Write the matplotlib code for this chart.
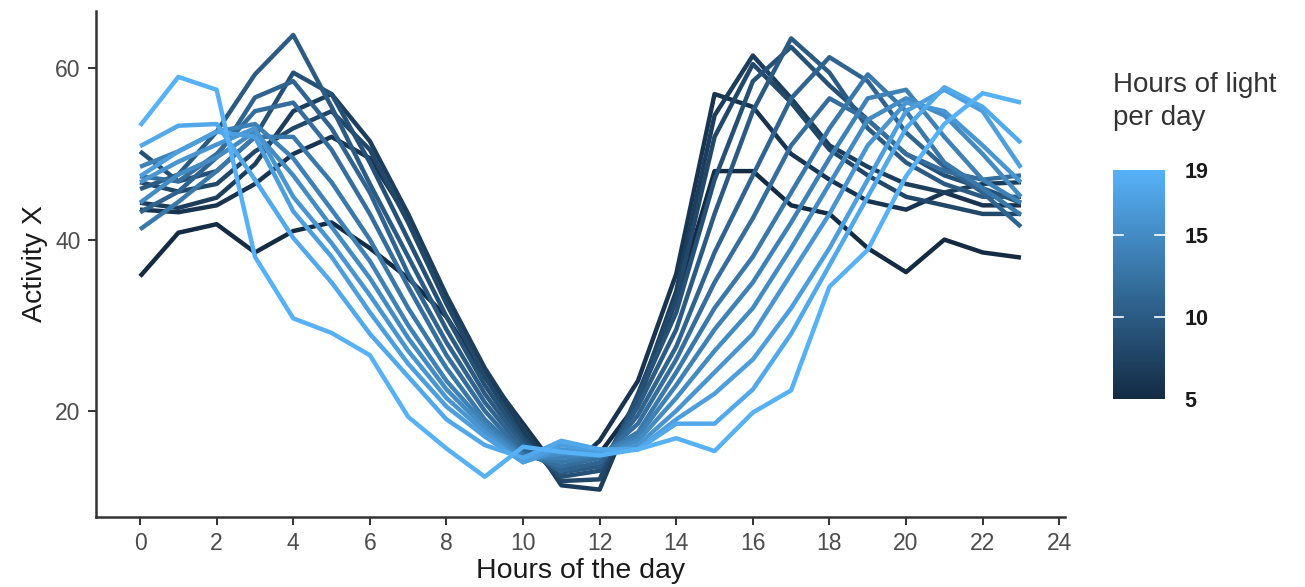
import matplotlib
matplotlib.use("Agg")
import matplotlib.pyplot as plt
from matplotlib.colors import LinearSegmentedColormap, Normalize
from matplotlib.cm import ScalarMappable

# ---------------- data ----------------
hours = list(range(24))
light_hours = [5, 6, 7, 8, 9, 10, 11, 12, 13, 14, 15, 16, 17, 18, 19]

activity_L05 = [35.7, 40.8, 41.8, 38.5, 41.0, 42.0, 39.0, 35.5, 31.0, 24.0, 17.5, 13.0,
                15.0, 21.0, 33.0, 48.0, 48.0, 44.0, 43.0, 39.0, 36.2, 40.0, 38.5, 37.9]
activity_L06 = [43.5, 43.2, 44.0, 46.5, 50.0, 52.0, 49.5, 42.5, 33.0, 24.5, 18.5, 12.5,
                16.5, 23.5, 36.0, 57.0, 55.5, 50.0, 47.0, 44.5, 43.5, 45.5, 44.0, 44.0]
activity_L07 = [44.3, 43.7, 44.9, 48.8, 55.0, 57.0, 51.5, 43.0, 33.5, 25.0, 18.0, 11.3,
                10.8, 21.5, 34.0, 54.5, 61.5, 56.5, 51.0, 48.5, 46.5, 45.5, 46.5, 46.7]
activity_L08 = [46.7, 45.6, 46.5, 50.3, 53.0, 55.0, 50.5, 42.0, 32.5, 24.0, 17.0, 11.8,
                12.0, 22.0, 33.0, 52.0, 60.5, 56.0, 50.5, 47.5, 45.0, 44.0, 43.0, 43.0]
activity_L09 = [50.3, 46.8, 48.0, 52.0, 59.5, 57.0, 49.0, 40.0, 31.0, 23.0, 16.5, 12.3,
                13.0, 21.5, 31.5, 47.0, 58.5, 62.5, 58.0, 54.0, 50.0, 47.5, 46.0, 44.3]
activity_L10 = [45.9, 47.6, 52.6, 59.3, 63.9, 55.5, 46.5, 38.0, 29.5, 22.0, 16.0, 12.8,
                13.5, 20.5, 29.5, 43.0, 55.0, 63.5, 59.5, 53.0, 49.0, 46.5, 45.0, 45.0]
activity_L11 = [43.2, 45.6, 49.6, 56.6, 58.5, 53.0, 45.5, 36.0, 28.0, 21.0, 15.5, 13.0,
                14.0, 19.5, 27.5, 38.5, 47.5, 56.5, 61.3, 58.5, 52.5, 48.5, 45.5, 41.5]
activity_L12 = [47.4, 46.8, 50.0, 55.0, 56.0, 50.5, 43.0, 34.5, 26.5, 20.0, 15.0, 13.5,
                14.5, 18.5, 26.0, 35.0, 42.5, 51.0, 56.5, 54.0, 50.0, 48.0, 47.0, 47.5]
activity_L13 = [41.2, 44.4, 48.0, 52.0, 52.0, 46.7, 40.0, 32.0, 25.0, 19.0, 14.8, 14.0,
                14.8, 17.5, 24.5, 32.0, 38.0, 45.5, 53.0, 59.3, 55.0, 49.0, 46.0, 42.9]
activity_L14 = [48.5, 50.3, 52.6, 53.5, 49.5, 43.5, 37.5, 30.0, 23.5, 18.5, 14.5, 14.5,
                15.0, 17.0, 23.0, 29.5, 35.0, 42.0, 49.5, 56.5, 57.5, 52.0, 47.0, 44.3]
activity_L15 = [44.3, 47.6, 49.6, 52.6, 47.5, 41.5, 35.5, 28.5, 22.5, 18.0, 14.3, 15.0,
                14.8, 16.5, 21.5, 27.0, 32.0, 39.0, 46.5, 54.0, 56.5, 54.5, 50.0, 45.0]
activity_L16 = [46.7, 49.1, 51.1, 53.0, 45.0, 39.6, 33.5, 27.0, 21.5, 17.5, 14.0, 15.5,
                15.0, 16.0, 20.0, 24.5, 29.0, 36.0, 43.0, 51.0, 56.0, 55.0, 51.0, 46.7]
activity_L17 = [47.4, 50.3, 52.6, 52.0, 43.3, 38.0, 31.5, 25.5, 20.5, 17.0, 14.0, 16.0,
                15.3, 15.5, 19.0, 22.0, 26.0, 32.0, 39.0, 47.0, 55.0, 57.5, 55.0, 48.4]
activity_L18 = [50.9, 53.3, 53.5, 47.0, 40.2, 35.0, 29.0, 24.0, 19.0, 16.0, 14.5, 16.5,
                15.5, 15.5, 18.5, 18.5, 22.5, 29.0, 37.0, 45.0, 53.0, 57.8, 55.5, 51.3]
activity_L19 = [53.3, 59.0, 57.5, 38.0, 30.8, 29.1, 26.5, 19.3, 15.6, 12.3, 15.8, 15.2,
                14.8, 15.5, 16.8, 15.3, 19.8, 22.4, 34.5, 38.8, 47.4, 53.5, 57.1, 56.0]

series = [activity_L05, activity_L06, activity_L07, activity_L08, activity_L09,
          activity_L10, activity_L11, activity_L12, activity_L13, activity_L14,
          activity_L15, activity_L16, activity_L17, activity_L18, activity_L19]

x_ticks = list(range(0, 25, 2))
y_ticks = [20, 40, 60]
cbar_ticks = [5, 10, 15, 19]

# ---------------- style ----------------
plt.rcParams['font.family'] = ['Liberation Sans', 'DejaVu Sans']
W, H = 1305, 587
fig = plt.figure(figsize=(W / 100, H / 100), dpi=100)
fig.patch.set_facecolor('white')

cmap = LinearSegmentedColormap.from_list('gg', ['#132B43', '#56B1F7'])
norm = Normalize(vmin=5, vmax=19)

ax = fig.add_axes([96 / W, 70 / H, 969 / W, 506 / H])
for L, vals in zip(light_hours, series):
    ax.plot(hours, vals, color=cmap(norm(L)), lw=3.2,
            solid_joinstyle='round', solid_capstyle='butt')

ax.set_xlim(-1.15, 24.15)
ax.set_ylim(7.6, 66.7)
ax.set_xticks(x_ticks)
ax.set_yticks(y_ticks)
for s in ['top', 'right']:
    ax.spines[s].set_visible(False)
for s in ['left', 'bottom']:
    ax.spines[s].set_color('#333333')
    ax.spines[s].set_linewidth(1.8)
ax.tick_params(axis='both', colors='#333333', width=1.4, length=6,
               labelsize=16.5, labelcolor='#4D4D4D', pad=5)
ax.set_xlabel('Hours of the day', fontsize=20.5, color='#1A1A1A', labelpad=2)
ax.set_ylabel('Activity X', fontsize=20.5, color='#1A1A1A', labelpad=5)

# ---------------- colorbar legend ----------------
cax = fig.add_axes([1113 / W, (H - 399) / H, 52 / W, 229 / H])
sm = ScalarMappable(norm=norm, cmap=cmap)
cb = fig.colorbar(sm, cax=cax, ticks=cbar_ticks)
cb.outline.set_visible(False)
cax.tick_params(length=0, pad=14, labelsize=15.5)
for t in cax.get_yticklabels():
    t.set_fontweight('bold')
    t.set_color('#1A1A1A')
for v in [10, 15]:
    cax.axhline(v, xmin=0, xmax=0.2, color='white', lw=1.2)
    cax.axhline(v, xmin=0.8, xmax=1.0, color='white', lw=1.2)

fig.text(1113 / W, 1 - 92 / H, 'Hours of light', fontsize=20, color='#333333',
         ha='left', va='baseline')
fig.text(1113 / W, 1 - 125 / H, 'per day', fontsize=20, color='#333333',
         ha='left', va='baseline')

fig.savefig('out.png', dpi=100, facecolor='white')
